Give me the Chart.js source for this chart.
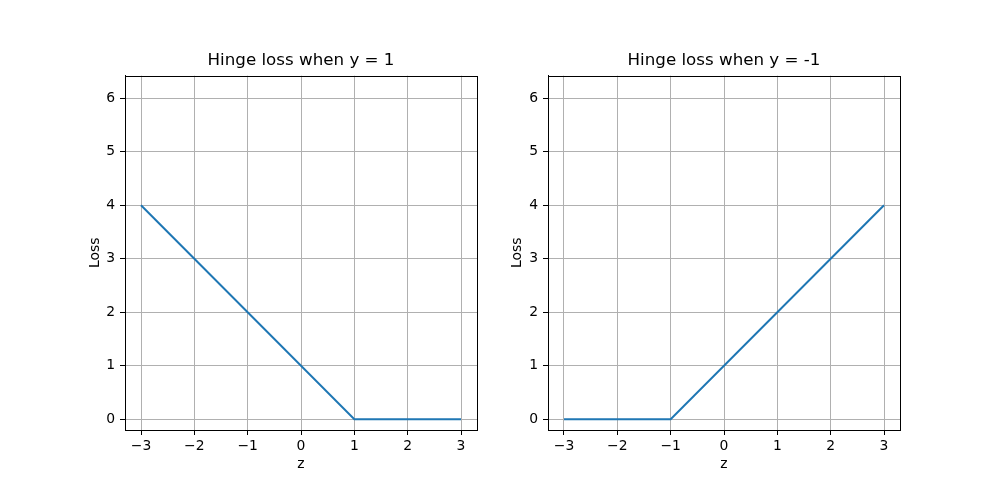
<!DOCTYPE html>
<html>
<head>
<meta charset="utf-8">
<script src="https://cdn.jsdelivr.net/npm/chart.js@4"></script>
<style>
  html, body { margin: 0; padding: 0; background: #ffffff; }
  #wrap { position: relative; width: 1000px; height: 500px; }
  .box { position: absolute; top: 0; width: 500px; height: 500px; }
</style>
</head>
<body>
<div id="wrap">
  <div class="box" style="left:0px"><canvas id="c1" width="500" height="500"></canvas></div>
  <div class="box" style="left:500px"><canvas id="c2" width="500" height="500"></canvas></div>
</div>
<script>
// ---- data ----
const titles = ["Hinge loss when y = 1", "Hinge loss when y = -1"];
const xLabel = "z";
const yLabel = "Loss";
const leftX = [-3, 1, 3];
const leftY = [4, 0, 0];
const rightX = [-3, -1, 3];
const rightY = [0, 0, 4];
const xTicks = [-3, -2, -1, 0, 1, 2, 3];
const yTicks = [0, 1, 2, 3, 4, 5, 6];
const xRange = [-3.3, 3.3];
const yRange = [-0.2, 6.42];

const FONT = "'DejaVu Sans', sans-serif";
const frame = {
  id: 'frame',
  afterDraw(chart) {
    const a = chart.chartArea, ctx = chart.ctx;
    ctx.save();
    ctx.strokeStyle = '#000';
    ctx.lineWidth = 1;
    ctx.strokeRect(Math.round(a.left) + 0.5, Math.round(a.top) + 0.5,
                   Math.round(a.right - a.left), Math.round(a.bottom - a.top));
    ctx.restore();
  }
};

function minus(v) { return String(v).replace('-', '\u2212'); }

function makeChart(id, xs, ys, title, cfg) {
  const pts = xs.map((x, i) => ({ x: x, y: ys[i] }));
  return new Chart(document.getElementById(id), {
    type: 'line',
    data: { datasets: [{ data: pts, borderColor: '#1f77b4', borderWidth: 2,
                         pointRadius: 0, tension: 0, fill: false }] },
    plugins: [frame],
    options: {
      responsive: false, animation: false,
      layout: { padding: { left: 0, right: cfg.padRight, top: 0, bottom: 0 } },
      plugins: {
        legend: { display: false }, tooltip: { enabled: false },
        title: { display: true, text: title, fullSize: false, color: '#000',
                 font: { family: FONT, size: 16.7, weight: 'normal', lineHeight: 1 },
                 padding: { top: 52, bottom: 7 } }
      },
      scales: {
        x: {
          type: 'linear', min: xRange[0], max: xRange[1],
          afterBuildTicks: s => { s.ticks = xTicks.map(v => ({ value: v })); },
          afterFit: s => { s.height = 70; },
          grid: { color: '#b0b0b0', lineWidth: 1, tickColor: '#000', tickLength: 5 },
          border: { color: '#000', width: 1 },
          ticks: { color: '#000', padding: 3, maxRotation: 0, autoSkip: false,
                   font: { family: FONT, size: 13.9 }, callback: v => minus(v) },
          title: { display: true, text: xLabel, color: '#000',
                   font: { family: FONT, size: 13.9, lineHeight: 1 },
                   padding: { top: 0, bottom: 29 } }
        },
        y: {
          type: 'linear', min: yRange[0], max: yRange[1],
          afterBuildTicks: s => { s.ticks = yTicks.map(v => ({ value: v })); },
          afterFit: s => { s.width = cfg.yWidth; },
          grid: { color: '#b0b0b0', lineWidth: 1, tickColor: '#000', tickLength: 5 },
          border: { color: '#000', width: 1 },
          ticks: { color: '#000', padding: 5, autoSkip: false,
                   font: { family: FONT, size: 13.9 }, callback: v => minus(v) },
          title: { display: true, text: yLabel, color: '#000',
                   font: { family: FONT, size: 13.9, lineHeight: 1 },
                   padding: { top: cfg.yTitlePad, bottom: 0 } }
        }
      }
    }
  });
}

makeChart('c1', leftX, leftY, titles[0], { padRight: 23, yWidth: 125, yTitlePad: 88 });
makeChart('c2', rightX, rightY, titles[1], { padRight: 100, yWidth: 48, yTitlePad: 10 });
</script>
</body>
</html>
